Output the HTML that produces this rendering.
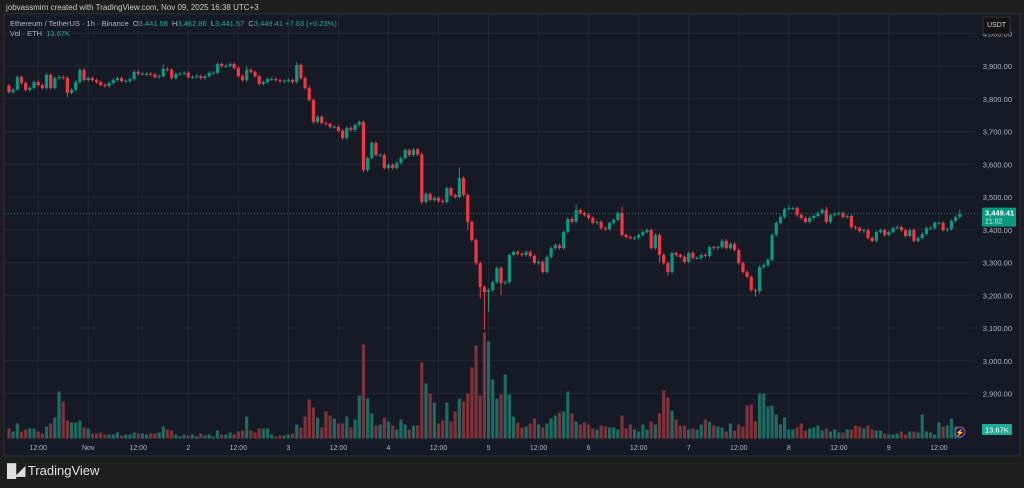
<!DOCTYPE html>
<html><head><meta charset="utf-8"><style>
html,body{margin:0;padding:0;background:#1e1e1e;width:1024px;height:488px;overflow:hidden;font-family:"Liberation Sans",sans-serif}
#wrap{position:relative;width:1024px;height:488px}
.t{position:absolute;white-space:nowrap}
</style></head><body>
<div id="wrap">
<div class="t" style="left:6px;top:3px;font-size:8px;color:#c8cad0">jobvassmim created with TradingView.com, Nov 09, 2025 16:38 UTC+3</div>
<svg id="svg" width="1024" height="488" style="position:absolute;left:0;top:0"></svg>
<div class="t" style="left:10px;top:19px;font-size:7.5px;color:#b2b5be">Ethereum / TetherUS · 1h · Binance &nbsp;O<span style="color:#22ab94">3,441.58</span> &nbsp;H<span style="color:#22ab94">3,462.86</span> &nbsp;L<span style="color:#22ab94">3,441.57</span> &nbsp;C<span style="color:#22ab94">3,449.41</span> <span style="color:#22ab94">+7.83 (+0.23%)</span></div>
<div class="t" style="left:10px;top:29px;font-size:7.5px;color:#b2b5be">Vol · ETH &nbsp;<span style="color:#22ab94">13.67K</span></div>
<div class="t" style="left:7px;top:463px;font-size:13px;color:#e0e0e0;font-weight:bold"><span style="letter-spacing:-1px">&#9608;&#9698;</span> <span style="font-weight:normal">TradingView</span></div>
</div>
<script>
const closes=[3820,3828,3866,3848,3827,3833,3851,3842,3833,3873,3833,3863,3866,3863,3818,3827,3851,3888,3857,3863,
3857,3851,3842,3839,3848,3857,3863,3854,3854,3860,3882,3876,3876,3876,3874,3866,3869,3891,3888,3863,
3876,3876,3879,3866,3866,3869,3863,3869,3879,3879,3906,3900,3900,3906,3894,3869,3857,3888,3882,3869,
3845,3851,3860,3860,3857,3854,3854,3857,3851,3903,3863,3833,3796,3729,3745,3726,3723,3714,3714,3702,
3680,3711,3705,3720,3729,3582,3619,3665,3628,3628,3589,3598,3589,3604,3619,3643,3628,3645,3630,3485,
3509,3491,3497,3488,3485,3527,3506,3500,3558,3506,3424,3369,3298,3225,3210,3216,3240,3283,3237,3240,
3323,3332,3326,3323,3332,3320,3298,3302,3271,3317,3344,3353,3344,3393,3433,3424,3460,3451,3445,3436,
3421,3424,3405,3402,3421,3430,3451,3384,3378,3375,3375,3384,3393,3399,3344,3384,3323,3298,3271,3329,
3323,3317,3302,3329,3314,3314,3323,3320,3347,3344,3347,3366,3344,3357,3338,3298,3271,3256,3216,3213,
3286,3292,3308,3384,3421,3439,3463,3466,3466,3445,3436,3424,3436,3442,3451,3460,3424,3445,3448,3451,
3439,3442,3408,3405,3396,3399,3375,3366,3393,3399,3384,3393,3405,3408,3399,3381,3399,3366,3375,3387,
3405,3405,3421,3421,3399,3402,3427,3439,3449];
const volumes=[10,7,15,7,9,10,10,7,5,12,15,21,47,37,18,16,16,18,11,10,
5,5,6,4,4,4,6,3,4,4,6,5,5,4,5,5,6,12,9,8,
4,2,4,3,4,2,5,3,4,2,8,4,4,6,4,7,8,22,8,6,
10,10,10,4,2,3,3,4,5,14,11,22,39,31,21,11,27,23,20,15,
15,22,11,19,43,94,40,25,13,14,21,17,13,9,19,14,9,13,13,76,
55,45,36,15,18,36,17,27,40,37,45,71,93,43,106,97,59,40,44,64,
44,22,16,11,12,15,20,14,11,15,20,23,26,27,47,25,17,14,16,14,
10,9,13,12,11,11,9,23,10,14,9,7,14,9,17,14,25,48,41,28,
19,13,13,9,10,9,14,19,17,13,12,11,7,15,8,14,12,33,34,17,
45,45,32,33,24,14,21,9,9,11,15,8,10,11,13,8,10,7,9,6,
6,9,9,13,12,10,13,9,8,8,5,4,4,5,7,4,7,7,6,24,
7,6,4,16,12,13,20,12,12];
const wickHighs={37:3905,57:3900,69:3912,108:3590,136:3478,147:3470,171:3372,187:3478,196:3470,228:3462};
const wickLows={14:3805,85:3575,99:3478,110:3400,113:3190,114:3095,115:3150,118:3200,156:3300,158:3260,179:3195,180:3205};
const priceTicks=[4000,3900,3800,3700,3600,3500,3400,3300,3200,3100,3000,2900];
const timeLabels=["12:00","Nov","12:00","2","12:00","3","12:00","4","12:00","5","12:00","6","12:00","7","12:00","8","12:00","9","12:00"];
const timeIdx=[7,19,31,43,55,67,79,91,103,115,127,139,151,163,175,187,199,211,223];
const lastPrice=3449.41, lastVol="13.67K";

const NS="http://www.w3.org/2000/svg";
const svg=document.getElementById('svg');
function el(tag,attrs,parent){const e=document.createElementNS(NS,tag);for(const k in attrs)e.setAttribute(k,attrs[k]);(parent||svg).appendChild(e);return e;}
const X=i=>9+i*4.17;
const Y=p=>66+(3900-p)*0.3275;
const VB=438.5, VS=1.0;
const GREEN="#089981", RED="#f23645";

const bg=el('rect',{x:4,y:14,width:1016,height:442,fill:'#161a25',stroke:'#2a2e39'});


const grid=el('g',{});


priceTicks.forEach(p=>{const y=Y(p);if(y<30)return;el('line',{x1:5,x2:975,y1:y,y2:y,stroke:'#232733','stroke-width':1},grid);});
timeIdx.forEach(i=>{el('line',{x1:X(i),x2:X(i),y1:15,y2:440,stroke:'#232733','stroke-width':1},grid);});

const vg=el('g',{});


const cg=el('g',{});


closes.forEach((c,i)=>{
  const o=i?closes[i-1]:3840;
  const up=c>=o;
  const col=up?GREEN:RED;
  const hi=wickHighs[i]!==undefined?wickHighs[i]:Math.max(o,c)+5;
  const lo=wickLows[i]!==undefined?wickLows[i]:Math.min(o,c)-5;
  const x=X(i);
  const v=el('rect',{x:x-1.6,y:VB-volumes[i]*VS,width:3.2,height:volumes[i]*VS,fill:up?'#1d6b62':'#7e3239'},vg);
  
  
  const w=el('line',{x1:x,x2:x,y1:Y(hi),y2:Y(lo),stroke:col,'stroke-width':1},cg);
  
  
  const yt=Y(Math.max(o,c)), h=Math.max(1,Y(Math.min(o,c))-yt);
  const b=el('rect',{x:x-1.6,y:yt,width:3.2,height:h,fill:col},cg);
  
  
});
svg.appendChild(cg);

const pl=el('line',{x1:5,x2:978,y1:Y(lastPrice),y2:Y(lastPrice),stroke:'#1f7a6a','stroke-width':1,'stroke-dasharray':'1,2'});



const ax=el('g',{});


priceTicks.forEach(p=>{const y=Y(p);if(y<30)return;const t=el('text',{x:1012,y:y+3,'text-anchor':'end','font-size':7.5,fill:'#b2b5be','font-family':'Liberation Sans, sans-serif'},ax);t.textContent=p.toLocaleString('en-US',{minimumFractionDigits:2});

});
const ub=el('rect',{x:983,y:17,width:27,height:17,fill:'#131313',stroke:'#333',rx:1});


const ut=el('text',{x:996.5,y:27,'text-anchor':'middle','font-size':7,fill:'#d1d4dc','font-family':'Liberation Sans, sans-serif'});ut.textContent='USDT';


const lb=el('rect',{x:982,y:Y(lastPrice)-6,width:34,height:19,fill:'#089981',rx:1});


const lt=el('text',{x:985,y:Y(lastPrice)+2,'font-size':7.5,fill:'#fff','font-weight':'bold','font-family':'Liberation Sans, sans-serif'});lt.textContent=lastPrice.toLocaleString('en-US',{minimumFractionDigits:2});


const lt2=el('text',{x:985,y:Y(lastPrice)+10,'font-size':7,fill:'#e0f5f0','font-family':'Liberation Sans, sans-serif'});lt2.textContent='21:02';


const vb=el('rect',{x:982,y:424,width:30,height:11,fill:'#22ab94',rx:1});


const vt=el('text',{x:985,y:432.5,'font-size':7.5,fill:'#fff','font-family':'Liberation Sans, sans-serif'});vt.textContent=lastVol;


const ic=el('circle',{cx:960,cy:432,r:5,fill:'#2a1a35',stroke:'#9c4fc4','stroke-width':1});


const ict=el('text',{x:960,y:435,'text-anchor':'middle','font-size':7,fill:'#c070e0'});ict.textContent='⚡';



const tx=el('g',{});


timeLabels.forEach((s,k)=>{const t=el('text',{x:X(timeIdx[k]),y:450,'text-anchor':'middle','font-size':7,fill:'#b2b5be','font-family':'Liberation Sans, sans-serif'},tx);t.textContent=s;

});
</script>
</body></html>
